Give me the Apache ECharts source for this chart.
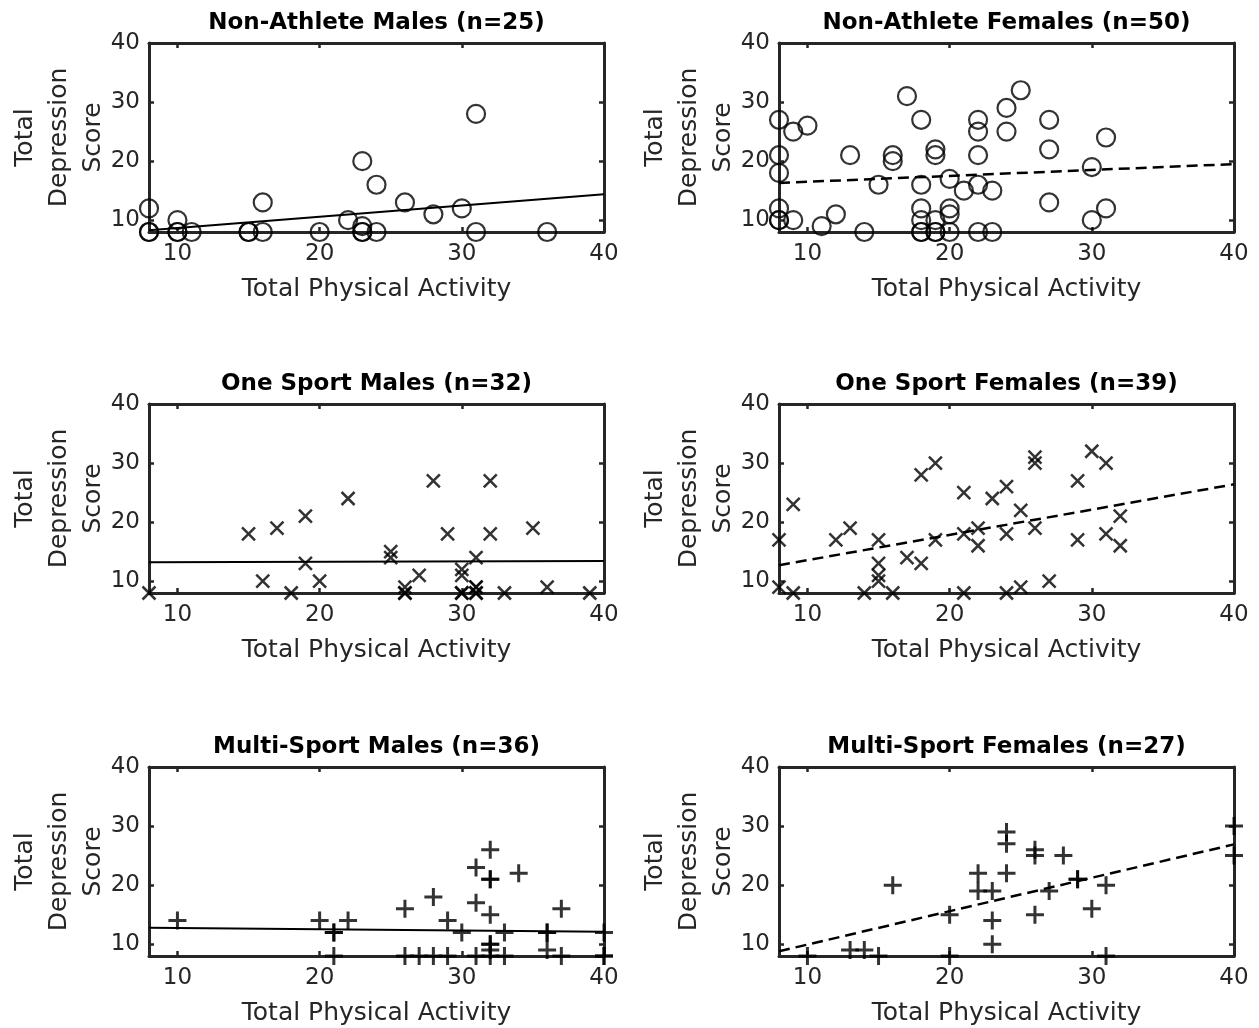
<!DOCTYPE html>
<html><head><meta charset="utf-8">
<script src="https://cdn.jsdelivr.net/npm/echarts@6/dist/echarts.min.js"></script>
<style>html,body{margin:0;padding:0;background:#fff}#c{width:1259px;height:1028px}</style>
</head><body><div id="c"></div>
<script>
// ---- data ----
const tickValues = [10, 20, 30, 40];
const fitX = [8, 40];

const naMalesX = [8, 8, 10, 10, 11, 15, 16, 16, 20, 22, 23, 23, 23, 24, 24, 26, 28, 30, 31, 31, 36, 8, 10, 23, 15];
const naMalesY = [12, 8, 10, 8, 8, 8, 13, 8, 8, 10, 20, 9, 8, 16, 8, 13, 11, 12, 28, 8, 8, 8, 8, 8, 8];
const naMalesFit = [8.3, 14.4];

const naFemalesX = [8, 8, 8, 8, 8, 9, 9, 10, 11, 12, 13, 14, 15, 16, 16, 17, 18, 18, 18, 18, 18, 19, 19, 19, 19, 20, 20, 20, 20, 21, 22, 22, 22, 22, 22, 23, 23, 24, 24, 25, 27, 27, 27, 30, 30, 31, 31, 18, 19, 8];
const naFemalesY = [27, 21, 18, 12, 10, 25, 10, 26, 9, 11, 21, 8, 16, 21, 20, 31, 27, 16, 12, 10, 8, 22, 21, 10, 8, 17, 12, 11, 8, 15, 27, 25, 21, 16, 8, 15, 8, 29, 25, 32, 27, 22, 13, 19, 10, 24, 12, 8, 8, 10];
const naFemalesFit = [16.3, 19.5];

const osMalesX = [8, 15, 16, 17, 18, 19, 19, 20, 22, 25, 25, 26, 26, 27, 28, 29, 30, 30, 30, 31, 31, 31, 32, 32, 33, 35, 36, 39, 26, 30, 31, 31];
const osMalesY = [8, 18, 10, 19, 8, 21, 13, 10, 24, 15, 14, 9, 8, 11, 27, 18, 12, 11, 8, 14, 9, 8, 27, 18, 8, 19, 9, 8, 8, 8, 8, 9];
const osMalesFit = [13.2, 13.4];

const osFemalesX = [8, 8, 9, 9, 12, 13, 14, 15, 15, 15, 15, 16, 17, 18, 18, 19, 19, 21, 21, 21, 22, 22, 23, 24, 24, 24, 25, 25, 26, 26, 26, 27, 29, 29, 30, 31, 31, 32, 32];
const osFemalesY = [17, 9, 23, 8, 17, 19, 8, 17, 13, 11, 10, 8, 14, 28, 13, 30, 17, 25, 18, 8, 19, 16, 24, 26, 18, 8, 22, 9, 31, 30, 19, 10, 27, 17, 32, 30, 18, 21, 16];
const osFemalesFit = [12.7, 26.4];

const msMalesX = [10, 20, 21, 21, 22, 26, 26, 27, 28, 28, 29, 29, 30, 31, 31, 31, 32, 32, 32, 32, 32, 32, 33, 33, 34, 36, 36, 37, 37, 40, 40, 32, 21, 32, 36, 40];
const msMalesY = [14, 14, 12, 8, 14, 16, 8, 8, 18, 8, 14, 8, 12, 23, 17, 8, 26, 21, 15, 10, 9, 8, 12, 8, 22, 12, 9, 16, 8, 12, 8, 21, 12, 10, 12, 8];
const msMalesFit = [12.8, 12.1];

const msFemalesX = [10, 13, 14, 15, 16, 20, 20, 22, 22, 23, 23, 23, 24, 24, 24, 26, 26, 26, 27, 28, 29, 30, 31, 31, 40, 40, 29];
const msFemalesY = [8, 9, 9, 8, 20, 15, 8, 22, 19, 19, 14, 10, 29, 27, 22, 26, 25, 15, 19, 25, 21, 16, 20, 8, 30, 25, 21];
const msFemalesFit = [8.8, 26.9];

const panelTitles = ['Non-Athlete Males (n=25)', 'Non-Athlete Females (n=50)',
  'One Sport Males (n=32)', 'One Sport Females (n=39)',
  'Multi-Sport Males (n=36)', 'Multi-Sport Females (n=27)'];
const xAxisName = 'Total Physical Activity';
const yAxisName = 'Total\nDepression\nScore';

// ---- layout & style ----
const FONT = 'DejaVu Sans';
const TXT = '#262626';
const lefts = [149, 779];
const tops = [43, 404, 767];
const W = 455, H = 189;

const markers = {
  circle: { symbol: 'circle', symbolSize: 18, itemStyle: { color: 'rgba(0,0,0,0)', borderColor: '#000', borderWidth: 2.2 } },
  cross: { symbol: 'path://M0,0L10,10M10,0L0,10', symbolSize: 13, itemStyle: { color: 'none', borderColor: '#000', borderWidth: 2.5 } },
  plus: { symbol: 'path://M5,0L5,10M0,5L10,5', symbolSize: 18, itemStyle: { color: 'none', borderColor: '#000', borderWidth: 3 } }
};

const panels = [
  { x: naMalesX, y: naMalesY, fit: naMalesFit, m: 'circle', dashed: false },
  { x: naFemalesX, y: naFemalesY, fit: naFemalesFit, m: 'circle', dashed: true },
  { x: osMalesX, y: osMalesY, fit: osMalesFit, m: 'cross', dashed: false },
  { x: osFemalesX, y: osFemalesY, fit: osFemalesFit, m: 'cross', dashed: true },
  { x: msMalesX, y: msMalesY, fit: msMalesFit, m: 'plus', dashed: false },
  { x: msFemalesX, y: msFemalesY, fit: msFemalesFit, m: 'plus', dashed: true }
];

const grid = [], xAxis = [], yAxis = [], series = [], graphic = [];
const axisLine = { show: true, lineStyle: { color: TXT, width: 3 } };
const axisTick = { show: true, inside: true, length: 5, lineStyle: { color: TXT, width: 2.5 }, customValues: tickValues };

panels.forEach((p, i) => {
  const L = lefts[i % 2], T = tops[Math.floor(i / 2)];
  grid.push({ left: L, top: T, width: W, height: H, containLabel: false });
  const base = { type: 'value', min: 8, max: 40, gridIndex: i, splitLine: { show: false }, axisLine: axisLine, axisTick: axisTick };
  xAxis.push(Object.assign({}, base, {
    position: 'bottom',
    axisLabel: { show: true, customValues: tickValues, margin: 11, fontSize: 23, color: TXT, fontFamily: FONT },
    name: xAxisName, nameLocation: 'middle', nameGap: 45,
    nameTextStyle: { fontSize: 25, color: TXT, fontFamily: FONT }
  }));
  xAxis.push(Object.assign({}, base, { position: 'top', axisLabel: { show: false } }));
  yAxis.push(Object.assign({}, base, {
    position: 'left',
    axisLabel: { show: true, customValues: tickValues, margin: 9, fontSize: 23, color: TXT, fontFamily: FONT }
  }));
  yAxis.push(Object.assign({}, base, { position: 'right', axisLabel: { show: false } }));

  const mk = markers[p.m];
  series.push({
    type: 'scatter', xAxisIndex: 2 * i, yAxisIndex: 2 * i, clip: false,
    symbol: mk.symbol, symbolSize: mk.symbolSize, itemStyle: mk.itemStyle,
    data: p.x.map((v, k) => [v, p.y[k]]), z: 2
  });
  series.push({
    type: 'line', xAxisIndex: 2 * i, yAxisIndex: 2 * i, symbol: 'none', silent: true,
    lineStyle: { color: '#000', width: p.dashed ? 2.5 : 2, type: p.dashed ? [11, 6] : 'solid' },
    data: fitX.map((v, k) => [v, p.fit[k]]), z: 3
  });
  graphic.push({
    type: 'text', x: L + W / 2, y: T - 20,
    style: { text: panelTitles[i], font: 'bold 23px "' + FONT + '"', fill: '#000', textAlign: 'center', textVerticalAlign: 'middle' }
  });
  graphic.push({
    type: 'text', x: L - 90, y: T + H / 2, rotation: Math.PI / 2,
    style: { text: yAxisName, font: '25px "' + FONT + '"', lineHeight: 34, fill: TXT, textAlign: 'center', textVerticalAlign: 'middle', align: 'center', verticalAlign: 'middle' }
  });
});

const chart = echarts.init(document.getElementById('c'), null, { renderer: 'canvas' });
chart.setOption({ animation: false, backgroundColor: '#fff', grid, xAxis, yAxis, series, graphic });
</script></body></html>
